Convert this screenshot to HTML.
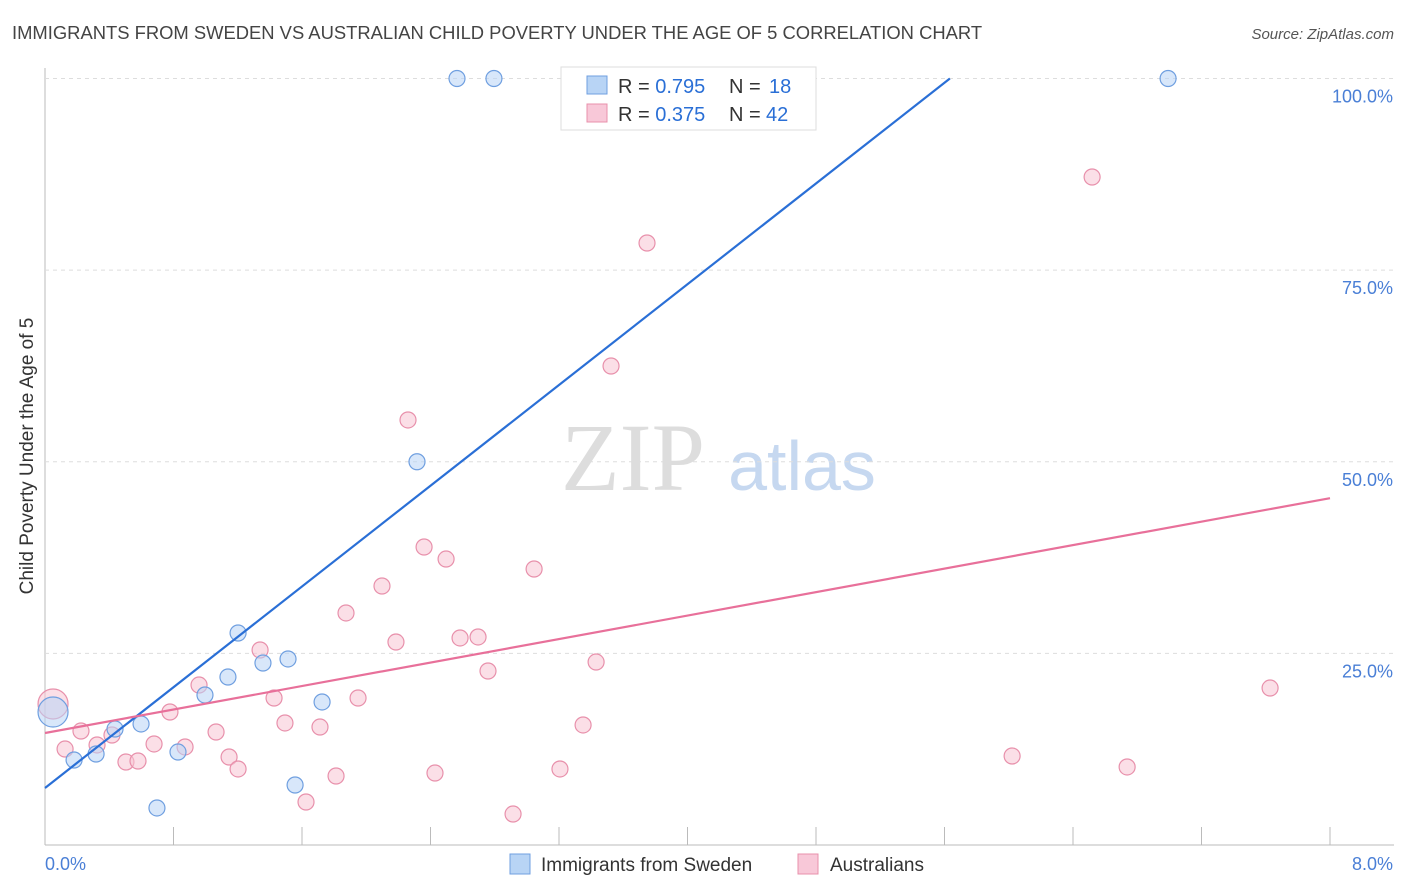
<!DOCTYPE html>
<html><head><meta charset="utf-8"><style>
body{margin:0;background:#fff;font-family:"Liberation Sans",sans-serif}
</style></head><body>
<svg id="chart" width="1406" height="892" xmlns="http://www.w3.org/2000/svg" style="display:block">
<text x="12" y="39" font-size="18.4" fill="#444">IMMIGRANTS FROM SWEDEN VS AUSTRALIAN CHILD POVERTY UNDER THE AGE OF 5 CORRELATION CHART</text>
<text x="1394" y="39" font-size="15" fill="#555" text-anchor="end" font-style="italic">Source: ZipAtlas.com</text>
<text transform="translate(33,456) rotate(-90)" font-size="19" fill="#333" text-anchor="middle">Child Poverty Under the Age of 5</text>
<g><text x="633" y="490" font-size="96" fill="#ddd" font-family="Liberation Serif" text-anchor="middle">ZIP</text><text x="802" y="490" font-size="70" fill="#c6d8f0" text-anchor="middle">atlas</text></g>
<g id="grid"></g><g id="marks"></g>
<g>
<rect x="561" y="67" width="255" height="63" fill="#fff" stroke="#ddd"/>
<rect x="587" y="76" width="20" height="18" fill="#b8d4f5" stroke="#6f9fe0"/>
<rect x="587" y="104" width="20" height="18" fill="#f8c8d8" stroke="#e890ab"/>
<text x="618" y="93" font-size="20" fill="#333">R = <tspan fill="#2a6fd6">0.795</tspan></text>
<text x="729" y="93" font-size="20" fill="#333">N = <tspan fill="#2a6fd6" x="769">18</tspan></text>
<text x="618" y="121" font-size="20" fill="#333">R = <tspan fill="#2a6fd6">0.375</tspan></text>
<text x="729" y="121" font-size="20" fill="#333">N = <tspan fill="#2a6fd6" x="766">42</tspan></text>
</g>
<g>
<rect x="510" y="854" width="20" height="20" fill="#b8d4f5" stroke="#6f9fe0"/>
<text x="541" y="871" font-size="19" fill="#333">Immigrants from Sweden</text>
<rect x="798" y="854" width="20" height="20" fill="#f8c8d8" stroke="#e890ab"/>
<text x="830" y="871" font-size="19" fill="#333">Australians</text>
</g>
</svg>
<script>
const xTicks=[0,0.8,1.6,2.4,3.2,4.0,4.8,5.6,6.4,7.2,8.0];
const yTicks=[25,50,75,100];
const yTickLabels=["25.0%","50.0%","75.0%","100.0%"];
const xEndLabels=["0.0%","8.0%"];
const swedenX=[2.565,2.795,6.992,2.316,1.202,1.513,1.357,1.139,0.996,1.725,0.598,0.436,0.05,0.318,0.181,0.828,1.557,0.697];
const swedenY=[100,100,100,50.0,27.66,24.27,23.74,21.92,19.57,18.66,15.79,15.13,17.35,11.87,11.09,12.13,7.83,4.83];
const swedenR=[8,8,8,8,8,8,8,8,8,8,8,8,15,8,8,8,8,8];
const ausX=[6.519,3.748,3.524,2.260,2.360,2.497,3.045,2.098,1.874,2.584,2.696,2.185,1.339,3.431,2.758,0.959,1.426,1.949,0.778,1.494,1.712,3.350,0.224,0.417,1.065,0.324,0.679,0.872,0.125,1.146,0.504,0.579,1.202,1.812,2.428,3.206,1.625,2.914,6.021,6.737,7.627,0.05];
const ausY=[87.15,78.54,62.49,55.45,38.88,37.31,36.01,33.79,30.27,27.01,27.14,26.48,25.44,23.87,22.70,20.87,19.18,19.18,17.35,15.92,15.39,15.66,14.87,14.35,14.74,13.05,13.18,12.79,12.52,11.48,10.83,10.96,9.92,9.00,9.39,9.92,5.61,4.04,11.61,10.18,20.48,18.40];
const ausR=[8,8,8,8,8,8,8,8,8,8,8,8,8,8,8,8,8,8,8,8,8,8,8,8,8,8,8,8,8,8,8,8,8,8,8,8,8,8,8,8,8,15];
const trendIntercept=[7.44,14.61];
const trendSlope=[16.43,3.83];
const X=v=>45+v/8*1285;
const Y=v=>845-v*7.665;
const NS="http://www.w3.org/2000/svg";
function mk(p,t,a){const e=document.createElementNS(NS,t);for(const k in a)e.setAttribute(k,a[k]);p.appendChild(e);return e;}
const grid=document.getElementById('grid'),marks=document.getElementById('marks');
let ax=mk(grid,'line',{x1:45,y1:68,x2:45,y2:845,stroke:'#bbb'});


let bx=mk(grid,'line',{x1:45,y1:845,x2:1394,y2:845,stroke:'#bbb'});


yTicks.forEach((t,i)=>{
 const g=mk(grid,'line',{x1:45,y1:Y(t),x2:1394,y2:Y(t),stroke:'#ddd','stroke-dasharray':'4,4'});
 
 
 const l=mk(grid,'text',{x:1393,y:Y(t)+24,'font-size':18,fill:'#4a7fd6','text-anchor':'end'});l.textContent=yTickLabels[i];
 
 
});
xTicks.forEach(t=>{
 const g=mk(grid,'line',{x1:X(t),y1:827,x2:X(t),y2:845,stroke:'#bbb'});
 
 
});
[[0,45,'start'],[8,1393,'end']].forEach((d,i)=>{
 const l=mk(grid,'text',{x:d[1],y:870,'font-size':18,fill:'#4a7fd6','text-anchor':d[2]});l.textContent=xEndLabels[i];
 
 
});
function pts(xs,ys,rs,fill,stroke,name){xs.forEach((x,i)=>{
 const c=mk(marks,'circle',{cx:X(x),cy:Y(ys[i]),r:rs[i],fill:fill,'fill-opacity':0.55,stroke:stroke,'stroke-width':1.2});
 
 
});}
pts(ausX,ausY,ausR,'#f8c4d4','#e890ab','australians-point');
pts(swedenX,swedenY,swedenR,'#b8d4f5','#6f9fe0','sweden-point');
let xe=(100-trendIntercept[0])/trendSlope[0];
let l1=mk(marks,'line',{x1:X(0),y1:Y(trendIntercept[0]),x2:X(xe),y2:Y(100),stroke:'#2a6fd6','stroke-width':2.2});


let l2=mk(marks,'line',{x1:X(0),y1:Y(trendIntercept[1]),x2:X(8),y2:Y(trendIntercept[1]+8*trendSlope[1]),stroke:'#e8709a','stroke-width':2.2});


</script>
</body></html>
